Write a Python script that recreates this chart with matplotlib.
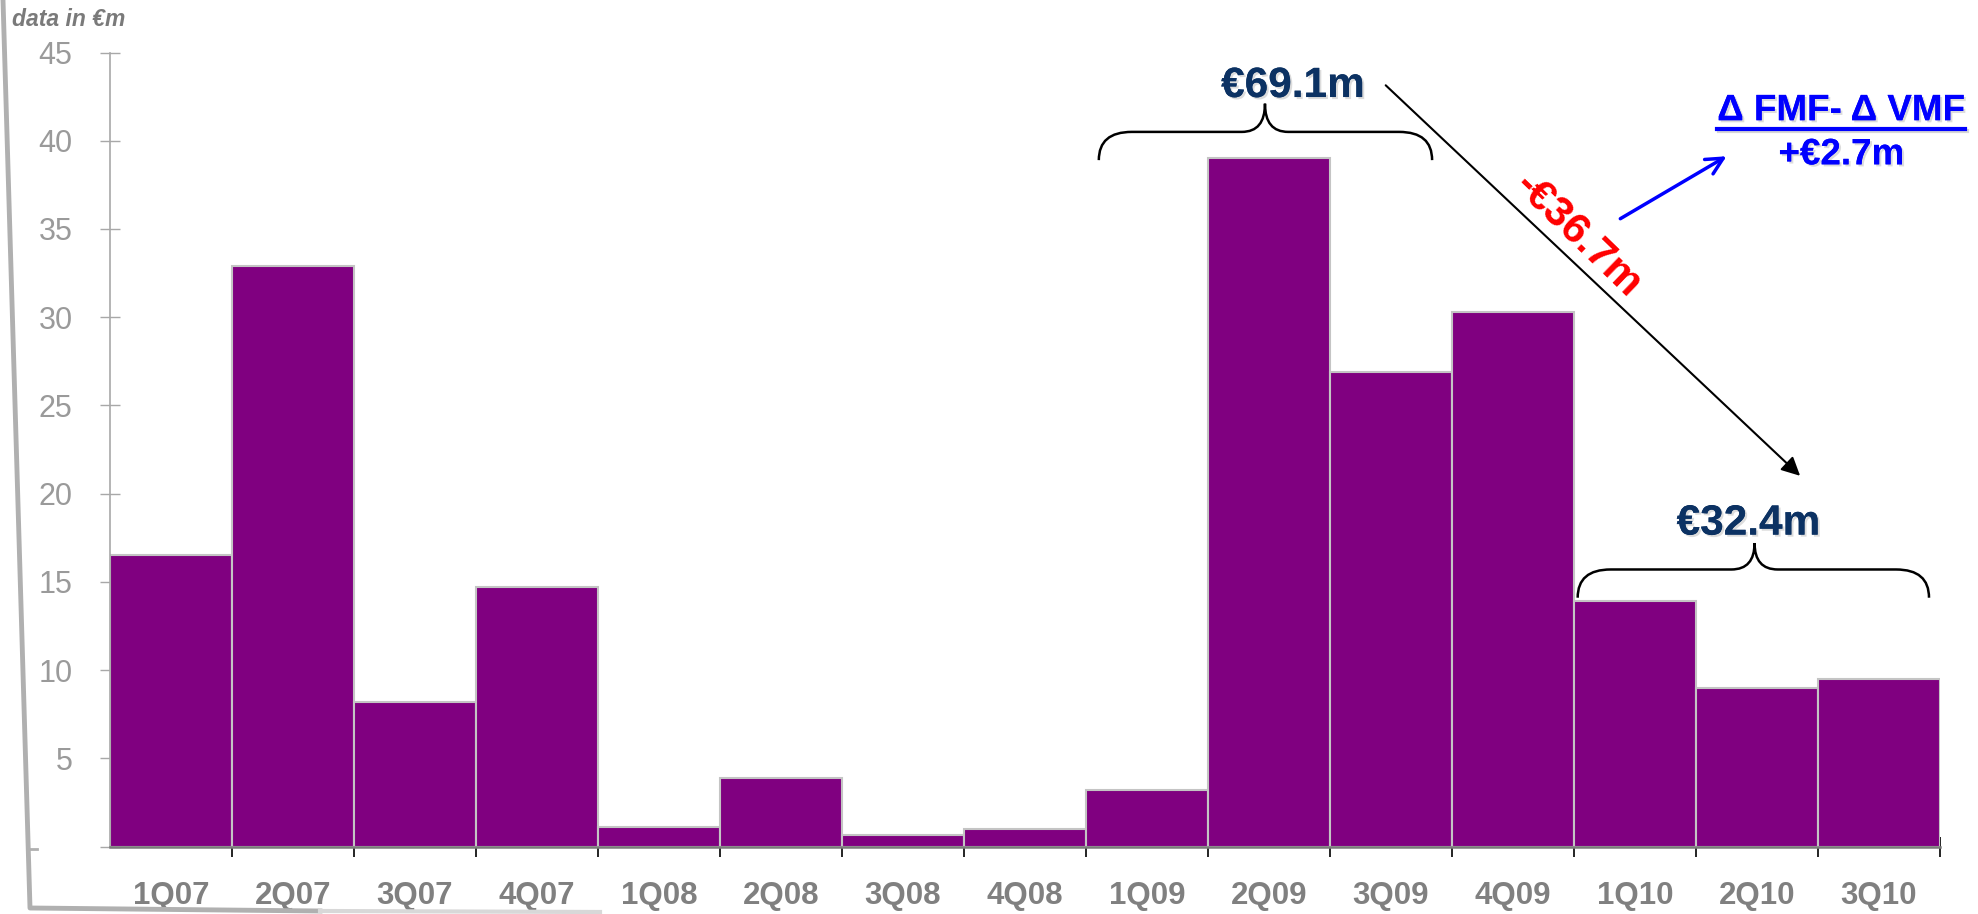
import matplotlib
matplotlib.use('Agg')
import matplotlib.pyplot as plt
import matplotlib.patheffects as pe
from matplotlib.path import Path
from matplotlib.patches import PathPatch
from matplotlib.lines import Line2D

# Quarterly values in EUR m
quarters = ['1Q07', '2Q07', '3Q07', '4Q07', '1Q08', '2Q08', '3Q08', '4Q08',
            '1Q09', '2Q09', '3Q09', '4Q09', '1Q10', '2Q10', '3Q10']
values = [16.5, 32.9, 8.2, 14.7, 1.1, 3.9, 0.65, 1.0,
          3.2, 39.0, 26.9, 30.3, 13.9, 9.0, 9.5]
yticks = [0, 5, 10, 15, 20, 25, 30, 35, 40, 45]

# Bracketed periods: first and last quarter index
peak_period = (8, 10)
recent_period = (12, 14)
margin_effect = 2.7

plt.rcParams['font.family'] = ['Liberation Sans', 'DejaVu Sans']

W, H = 1978, 914
fig = plt.figure(figsize=(W / 100, H / 100), dpi=100)
ax = fig.add_axes([110 / W, 1 - 846.5 / H, 1830 / W, 794 / H])

xs = list(range(len(values)))
ax.bar(xs, values, width=1.0, color='#800080', edgecolor='#c4c4c4', linewidth=1.5, zorder=2)

ax.set_xlim(-0.5, len(values) - 0.5)
ax.set_ylim(0, 45)

# Axes styling
for side in ['top', 'right']:
    ax.spines[side].set_visible(False)
ax.spines['left'].set_color('#a8a8a8')
ax.spines['left'].set_linewidth(1.2)
ax.spines['bottom'].set_color('#7a7a7a')
ax.spines['bottom'].set_linewidth(1.8)
ax.spines['bottom'].set_zorder(3)

ax.set_yticks(yticks)
ax.set_yticklabels(['' if t == 0 else str(t) for t in yticks])
ax.tick_params(axis='y', direction='inout', length=14, width=1.0, color='#a8a8a8',
               labelsize=22, labelcolor='#9a9a9a', pad=20)

# Category labels at the bar centres, tick marks at the bar boundaries
ax.set_xticks(xs)
ax.set_xticklabels(quarters, fontweight='bold')
ax.set_xticks([x + 0.5 for x in xs[:-1]] + [len(values) - 0.5], minor=True)
ax.tick_params(axis='x', which='major', length=0, labelsize=22.5, labelcolor='#808080', pad=25)
ax.tick_params(axis='x', which='minor', direction='inout', length=14, width=1.2, color='black')

fig.text(12 / W, 1 - 19 / H, 'data in \u20acm', fontsize=16.5, fontweight='bold',
         fontstyle='italic', color='#7a7a7a', ha='left', va='center')


def brace(x0, x1, xt, yb, ym, yt, r_out=0.27, r_in=0.19):
    verts = [(x0, yb), (x0, ym), (x0 + r_out, ym),
             (xt - r_in, ym), (xt, ym), (xt, yt),
             (xt, ym), (xt + r_in, ym),
             (x1 - r_out, ym), (x1, ym), (x1, yb)]
    codes = [Path.MOVETO, Path.CURVE3, Path.CURVE3,
             Path.LINETO, Path.CURVE3, Path.CURVE3,
             Path.CURVE3, Path.CURVE3,
             Path.LINETO, Path.CURVE3, Path.CURVE3]
    ax.add_patch(PathPatch(Path(verts, codes), facecolor='none', edgecolor='black',
                           linewidth=1.8, zorder=4, clip_on=False))


shadow = [pe.withSimplePatchShadow(offset=(1.5, -1.5), shadow_rgbFace='#bbbbbb', alpha=0.5), pe.Normal()]

# Peak period bracket and total
peak_total = sum(values[peak_period[0]:peak_period[1] + 1])
brace(peak_period[0] - 0.395, peak_period[1] + 0.337, 8.967, 38.9, 40.5, 42.1)
ax.text(9.196, 43.1, '\u20ac%.1fm' % peak_total, fontsize=30.5, fontweight='bold',
        color='#0c3263', ha='center', va='center', path_effects=shadow, clip_on=False)

# Recent period bracket and total
recent_total = sum(values[recent_period[0]:recent_period[1] + 1])
brace(recent_period[0] - 0.47, recent_period[1] + 0.41, 12.98, 14.1, 15.7, 17.2)
ax.text(12.93, 18.3, '\u20ac%.1fm' % recent_total, fontsize=30.5, fontweight='bold',
        color='#0c3263', ha='center', va='center', path_effects=shadow)

# Decline arrow between the two periods
ax.annotate('', xy=(13.37, 20.9), xytext=(9.94, 43.25),
            arrowprops=dict(arrowstyle='-|>', color='black', lw=1.5, mutation_scale=28),
            annotation_clip=False)
ax.text(11.53, 34.6, '-\u20ac%.1fm' % abs(recent_total - peak_total), fontsize=31, fontweight='bold',
        color='#ff0000', ha='center', va='center', rotation=-44, rotation_mode='anchor')

# Fixed vs variable margin effect
ax.annotate('', xy=(12.77, 39.2), xytext=(11.86, 35.5),
            arrowprops=dict(arrowstyle='->', color='#0000ff', lw=2.5, mutation_scale=30),
            annotation_clip=False)
delta_label = ax.text(13.69, 41.7, '\u0394 FMF- \u0394 VMF', fontsize=26.5, fontweight='bold',
                      color='#0000ff', ha='center', va='center', path_effects=shadow, clip_on=False)
ax.text(13.69, 39.2, '+\u20ac%.1fm' % margin_effect, fontsize=26.5, fontweight='bold',
        color='#0000ff', ha='center', va='center', path_effects=shadow, clip_on=False)

# Underline the margin label
fig.canvas.draw()
bb = delta_label.get_window_extent().transformed(fig.transFigure.inverted())
fig.add_artist(Line2D([bb.x0, bb.x1], [bb.y0 - 0.001, bb.y0 - 0.001], color='#0000ff', lw=3.0,
                      path_effects=[pe.SimpleLineShadow(offset=(1.5, -1.5), shadow_color='#bbbbbb', alpha=0.6), pe.Normal()]))

# Page frame edge, fading out along the bottom
fig.add_artist(Line2D([3 / W, 30 / W, 320 / W], [1.0, 1 - 908 / H, 1 - 911 / H],
                      color='#b0b0b0', lw=3.5, solid_joinstyle='round'))
fig.add_artist(Line2D([320 / W, 600 / W], [1 - 911 / H, 1 - 912 / H], color='#d8d8d8', lw=3.0))
fig.add_artist(Line2D([30 / W, 37 / W], [1 - 849 / H, 1 - 849 / H], color='#b0b0b0', lw=2.0))

fig.savefig('out.png', dpi=100, facecolor='white')
